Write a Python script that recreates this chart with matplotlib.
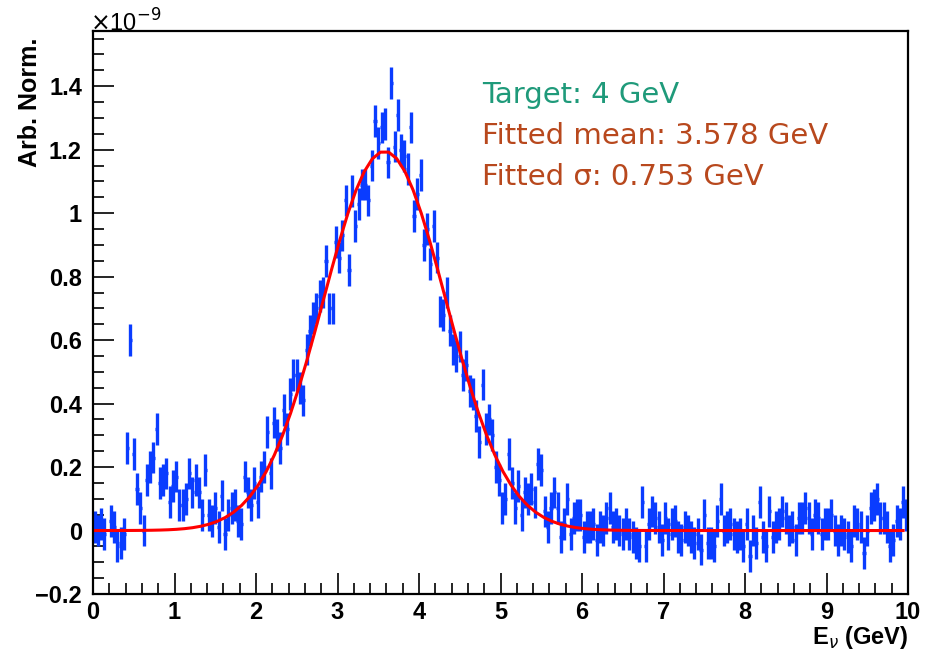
import numpy as np
import matplotlib.pyplot as plt
from matplotlib.ticker import MultipleLocator, FuncFormatter

plt.rcParams['font.family'] = ['Liberation Sans', 'DejaVu Sans']

nan = np.nan

# histogram: 250 bins of 0.04 GeV between 0 and 10 GeV, contents in units of 1e-9
e_min, e_max = 0.0, 10.0
counts = [
    0.01, 0.00, 0.02, -0.01, nan, 0.03, 0.01, -0.05, -0.04, -0.01,
    0.26, 0.60, 0.24, 0.13, 0.07, 0.00, 0.16, 0.20, 0.23, 0.32,
    0.15, 0.16, 0.18, 0.09, 0.14, 0.17, 0.08, 0.08, 0.10, 0.18,
    0.12, 0.16, 0.12, 0.05, 0.19, 0.05, 0.03, 0.07, 0.01, 0.11,
    -0.01, 0.05, 0.07, 0.08, 0.03, 0.02, 0.17, 0.12, 0.08, 0.15,
    0.09, 0.17, 0.20, 0.31, 0.18, 0.34, 0.30, 0.26, 0.38, 0.32,
    0.43, 0.49, 0.49, 0.45, 0.41, 0.57, 0.63, 0.67, 0.70, 0.74,
    0.75, 0.85, 0.70, 0.70, 0.91, 0.86, 0.93, 1.04, 0.82, 1.07,
    0.96, 1.03, 1.09, 1.09, 1.04, 1.15, 1.29, 1.22, 1.27, 1.28,
    1.16, 1.41, 1.21, 1.31, 1.20, 1.18, 1.14, 1.27, 0.99, 1.06,
    1.12, 0.90, 0.95, 0.84, 0.96, 0.86, 0.69, 0.68, 0.75, 0.63,
    0.57, 0.55, 0.58, 0.49, 0.52, 0.44, 0.43, 0.36, 0.28, 0.46,
    0.32, 0.35, 0.30, 0.20, 0.16, 0.07, 0.10, 0.24, 0.15, 0.07,
    0.14, 0.05, 0.12, 0.10, 0.13, 0.09, 0.21, 0.19, 0.06, 0.01,
    0.07, 0.12, 0.07, -0.02, 0.02, 0.10, -0.01, 0.04, 0.05, 0.05,
    -0.02, 0.01, 0.01, 0.02, -0.03, 0.01, 0.00, 0.04, 0.07, 0.01,
    0.02, 0.00, -0.01, 0.02, -0.01, -0.02, -0.04, -0.05, 0.09, -0.05,
    0.02, 0.06, 0.04, 0.01, -0.03, 0.04, -0.01, 0.02, 0.03, -0.02,
    -0.03, 0.01, 0.00, -0.02, -0.04, -0.01, -0.06, 0.05, -0.04, -0.04,
    -0.05, 0.03, 0.10, 0.00, 0.01, 0.02, -0.01, -0.02, -0.01, -0.05,
    0.02, -0.08, 0.00, -0.04, 0.09, -0.02, -0.05, 0.06, -0.02, 0.01,
    0.02, 0.06, 0.04, 0.00, 0.01, -0.03, 0.04, 0.04, 0.07, 0.04,
    -0.01, 0.05, 0.04, -0.01, 0.02, 0.02, 0.05, 0.00, -0.03, 0.00,
    -0.01, -0.02, -0.05, 0.03, 0.02, 0.01, -0.07, 0.00, 0.07, 0.08,
    0.10, 0.04, 0.04, 0.01, -0.05, -0.03, 0.03, 0.02, 0.09, 0.05,
]
err = 0.05  # half length of the error bars

# gaussian fit drawn over the fit range
fit_amp = 1.195
fit_mean = 3.578
fit_sigma = 0.753
fit_lo, fit_hi = 0.02, 9.94

info_lines = ['Target: 4 GeV', 'Fitted mean: 3.578 GeV', 'Fitted \u03c3: 0.753 GeV']
info_colors = ['#1f9a7a', '#b8481d', '#b8481d']

blue = '#0a3cff'
red = '#ff0000'

fig = plt.figure(figsize=(9.3, 6.5), dpi=100)
ax = fig.add_axes([93 / 930, 56 / 650, 815 / 930, 563 / 650])

edges = np.linspace(e_min, e_max, len(counts) + 1)
centers = 0.5 * (edges[1:] + edges[:-1])
vals = np.array(counts)
ax.errorbar(centers, vals, yerr=err, xerr=0.5 * np.diff(edges), fmt='none',
            ecolor=blue, elinewidth=2.4, capsize=0)

xf = np.linspace(fit_lo, fit_hi, 100)
ax.plot(xf, fit_amp * np.exp(-0.5 * ((xf - fit_mean) / fit_sigma) ** 2), color=red, lw=2.2)

ax.set_xlim(e_min, e_max)
ax.set_ylim(-0.2, 1.574)
ax.xaxis.set_major_locator(MultipleLocator(1))
ax.xaxis.set_minor_locator(MultipleLocator(0.2))
ax.yaxis.set_major_locator(MultipleLocator(0.2))
ax.yaxis.set_minor_locator(MultipleLocator(0.05))
ax.yaxis.set_major_formatter(FuncFormatter(lambda v, p: ('%g' % round(v, 2)).replace('-', '\u2212')))
ax.tick_params(which='both', direction='in', top=False, right=False, width=1.2)
ax.tick_params(which='major', length=15, labelsize=17)
ax.tick_params(which='minor', length=8)
ax.tick_params(axis='x', pad=5)
ax.tick_params(axis='y', pad=8)
for lab in ax.get_xticklabels() + ax.get_yticklabels():
    lab.set_fontweight('bold')
for s in ax.spines.values():
    s.set_linewidth(1.6)

fig.text(30 / 930, 1 - 38 / 650, 'Arb. Norm.', rotation=90, ha='center', va='top',
         fontsize=18, fontweight='bold')
fig.text(908 / 930, 1 - 644 / 650, r'E$_{\nu}$ (GeV)', ha='right', va='baseline',
         fontsize=17, fontweight='bold')
fig.text(90 / 930, 1 - 32 / 650, r'$\times$10$^{-9}$', ha='left', va='baseline', fontsize=17)

for k, (line, col) in enumerate(zip(info_lines, info_colors)):
    fig.text(482 / 930, 1 - (103 + 41 * k) / 650, line, color=col, ha='left', va='baseline',
             fontsize=21, family=['DejaVu Sans'])

fig.savefig('out.png', dpi=100)
